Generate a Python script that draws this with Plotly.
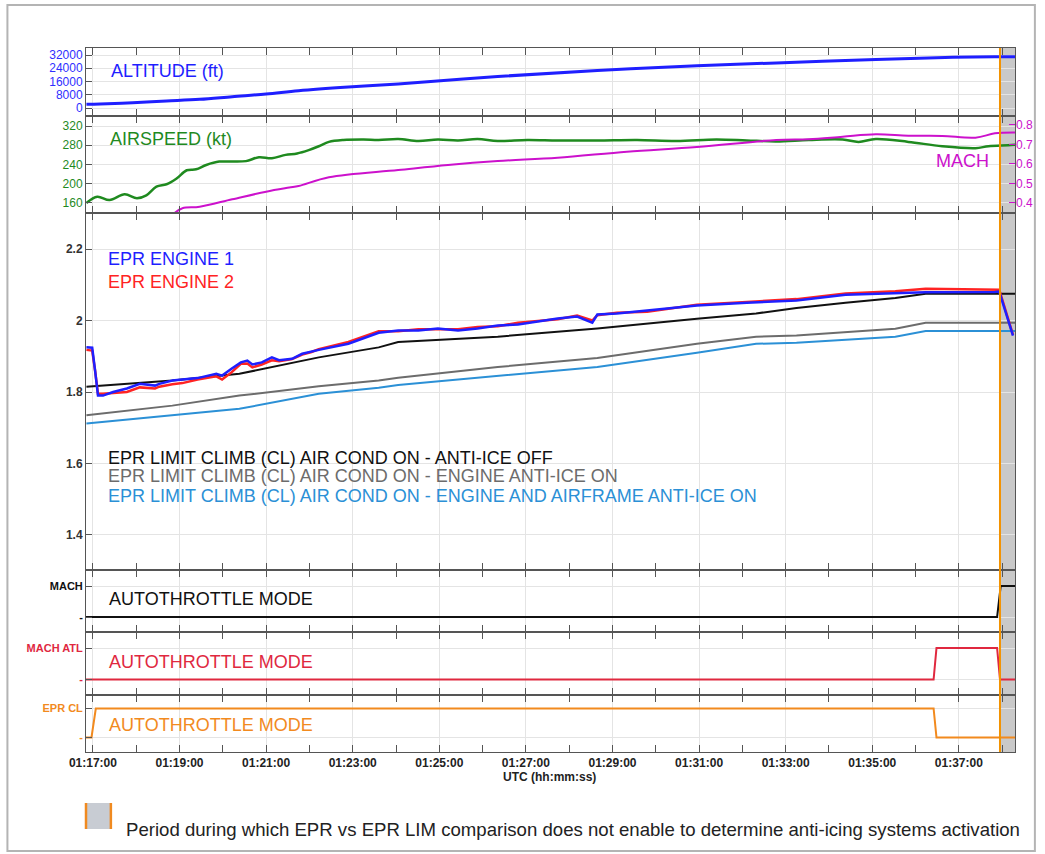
import plotly.graph_objects as go

# ---------------- data (UTC times, hh:mm:ss) ----------------
alt_t = ["01:16:51", "01:17:10", "01:17:55", "01:18:42", "01:19:28", "01:20:13", "01:21:00",
         "01:21:45", "01:22:54", "01:24:03", "01:26:21", "01:28:39", "01:30:57", "01:32:47",
         "01:35:05", "01:36:41", "01:37:50", "01:38:18"]
alt_ft = [2230, 2415, 3220, 4230, 5230, 6840, 8450, 10460, 12680, 14490, 19020, 22700,
          25500, 27200, 29300, 30500, 30900, 31000]

spd_t = ["01:16:51", "01:17:06", "01:17:23", "01:17:44", "01:18:01", "01:18:14", "01:18:28",
         "01:18:42", "01:18:56", "01:19:10", "01:19:23", "01:19:37", "01:19:55", "01:20:13",
         "01:20:32", "01:20:50", "01:21:08", "01:21:27", "01:21:43", "01:21:59", "01:22:13",
         "01:22:27", "01:22:47", "01:23:15", "01:23:36", "01:24:03", "01:24:31", "01:24:58",
         "01:25:26", "01:25:53", "01:26:21", "01:27:02", "01:27:44", "01:28:39", "01:29:34",
         "01:30:29", "01:31:24", "01:32:06", "01:32:47", "01:33:32", "01:34:19", "01:34:41",
         "01:35:05", "01:35:50", "01:36:37", "01:37:23", "01:37:41", "01:38:08", "01:38:18"]
spd_kt = [160, 173, 166, 178, 170, 176, 194, 199, 211, 228, 230, 239, 246, 246, 247, 255, 253,
          260, 263, 270, 278, 287, 291, 292, 291, 293, 289, 292, 290, 293, 289, 291, 290, 290,
          291, 289, 292, 290, 288, 291, 292, 287, 293, 287, 278, 274, 278, 280, 281]

mach_t = ["01:18:53", "01:19:04", "01:19:28", "01:20:13", "01:21:00", "01:21:32", "01:21:45",
          "01:22:27", "01:24:03", "01:25:12", "01:26:21", "01:27:44", "01:29:20", "01:30:57",
          "01:32:47", "01:33:32", "01:34:19", "01:35:05", "01:35:50", "01:36:37", "01:37:23",
          "01:37:50", "01:38:18"]
mach = [0.349, 0.373, 0.381, 0.419, 0.458, 0.479, 0.487, 0.532, 0.569, 0.595, 0.615, 0.632,
        0.663, 0.687, 0.723, 0.727, 0.740, 0.752, 0.745, 0.744, 0.735, 0.757, 0.761]

epr_t = ["01:16:51", "01:16:59", "01:17:03", "01:17:07", "01:17:14", "01:17:28", "01:17:47",
         "01:18:05", "01:18:26", "01:18:32", "01:18:50", "01:19:04", "01:19:25", "01:19:51",
         "01:19:59", "01:20:12", "01:20:25", "01:20:34", "01:20:41", "01:20:54", "01:21:08",
         "01:21:18", "01:21:36", "01:21:50", "01:22:03", "01:22:13", "01:22:54", "01:23:36",
         "01:24:03", "01:24:31", "01:24:58", "01:25:26", "01:25:53", "01:26:21", "01:26:49",
         "01:27:16", "01:27:44", "01:28:11", "01:28:32", "01:28:39", "01:29:06", "01:29:48",
         "01:30:57", "01:32:06", "01:33:15", "01:34:23", "01:35:32", "01:36:14", "01:37:50",
         "01:37:56", "01:38:15"]
epr_eng1 = [1.925, 1.924, 1.860, 1.790, 1.790, 1.800, 1.810, 1.823, 1.818, 1.823, 1.832, 1.834,
            1.839, 1.851, 1.846, 1.865, 1.883, 1.888, 1.877, 1.883, 1.897, 1.889, 1.893, 1.907,
            1.914, 1.918, 1.935, 1.966, 1.972, 1.972, 1.978, 1.972, 1.978, 1.986, 1.989, 1.997,
            2.006, 2.011, 1.994, 2.017, 2.020, 2.028, 2.042, 2.050, 2.056, 2.072, 2.076, 2.079,
            2.080, 2.081, 1.958]
epr_eng2 = [1.918, 1.916, 1.860, 1.795, 1.795, 1.797, 1.800, 1.813, 1.810, 1.815, 1.822, 1.825,
            1.835, 1.844, 1.835, 1.855, 1.879, 1.880, 1.869, 1.877, 1.889, 1.886, 1.892, 1.905,
            1.912, 1.920, 1.940, 1.970, 1.970, 1.976, 1.975, 1.976, 1.982, 1.984, 1.994, 1.999,
            2.004, 2.014, 2.000, 2.015, 2.022, 2.025, 2.044, 2.052, 2.060, 2.076, 2.082, 2.089,
            2.087, 2.086, 1.960]

lim_t = ["01:16:51", "01:18:50", "01:20:23", "01:22:13", "01:23:36", "01:24:03", "01:26:21",
         "01:28:39", "01:30:57", "01:32:19", "01:33:15", "01:34:23", "01:35:32", "01:36:14",
         "01:38:18"]
lim_ai_off = [1.815, 1.832, 1.851, 1.897, 1.925, 1.940, 1.955, 1.978, 2.005, 2.020, 2.035,
              2.050, 2.063, 2.075, 2.075]
lim_eng_ai = [1.735, 1.762, 1.790, 1.816, 1.832, 1.840, 1.870, 1.895, 1.935, 1.955, 1.958,
              1.967, 1.977, 1.994, 1.994]
lim_eng_af_ai = [1.712, 1.734, 1.753, 1.795, 1.812, 1.820, 1.845, 1.870, 1.910, 1.935, 1.938,
                 1.946, 1.955, 1.971, 1.971]

at_mach_t = ["01:16:50", "01:37:53", "01:37:58", "01:38:18"]
at_mach = [0, 0, 1, 1]
at_atl_t = ["01:16:50", "01:36:25", "01:36:29", "01:37:53", "01:37:57", "01:38:18"]
at_atl = [0, 0, 1, 1, 0, 0]
at_eprcl_t = ["01:16:50", "01:16:58", "01:17:04", "01:36:25", "01:36:29", "01:38:18"]
at_eprcl = [0, 0, 1, 1, 0, 0]

period_start = "01:37:57"
period_end = "01:38:18"
x_start, x_end = "01:16:50.4", "01:38:17.8"


def ts(values):
    return ["2000-01-01 " + v for v in values]


# ---------------- page geometry ----------------
W, H = 1045, 854
ML, MR, MT, MB = 86, 25, 48, 102
PW, PH = W - ML - MR, H - MT - MB


def px(x):
    return (x - ML) / PW


def py(y):
    return (H - MB - y) / PH


# panel domains (bottom, top) in paper units, top panel first
bounds = [48, 116, 213, 570, 632, 695, 752]
domains = [[py(bounds[i + 1]), py(bounds[i])] for i in range(6)]

BLUE = "#1f1fff"
RED = "#ff2323"
GREEN = "#1f8a1f"
MAGENTA = "#cc11cc"
BLACK = "#111111"
GREY = "#6c6c6c"
SKY = "#2b90d6"
ATL_RED = "#e0283f"
ORANGE = "#f28a1e"
AXIS = "#555555"
GRID = "#e4e4e4"

fig = go.Figure()


def add(x, y, color, width, xk, yk, name, shape="linear"):
    fig.add_trace(go.Scatter(x=ts(x), y=y, mode="lines", name=name,
                             line=dict(color=color, width=width, shape=shape),
                             xaxis="x" + xk, yaxis="y" + yk, showlegend=False,
                             hoverinfo="skip"))


add(alt_t, alt_ft, BLUE, 3, "", "", "Altitude", "spline")
add(spd_t, spd_kt, GREEN, 2.5, "2", "2", "Airspeed", "spline")
add(mach_t, mach, MAGENTA, 2, "2", "7", "Mach", "spline")
add(lim_t, lim_eng_af_ai, SKY, 2, "3", "3", "EPR LIM eng+af anti-ice")
add(lim_t, lim_eng_ai, GREY, 2, "3", "3", "EPR LIM eng anti-ice")
add(lim_t, lim_ai_off, BLACK, 2, "3", "3", "EPR LIM anti-ice off")
add(epr_t, epr_eng2, RED, 2.5, "3", "3", "EPR engine 2")
add(epr_t, epr_eng1, BLUE, 2.5, "3", "3", "EPR engine 1")
add(at_mach_t, at_mach, BLACK, 2, "4", "4", "AT MACH")
add(at_atl_t, at_atl, ATL_RED, 2, "5", "5", "AT MACH ATL")
add(at_eprcl_t, at_eprcl, ORANGE, 2, "6", "6", "AT EPR CL")

xr = ts([x_start, x_end])
layout = dict(width=W, height=H, margin=dict(l=ML, r=MR, t=MT, b=MB),
              paper_bgcolor="white", plot_bgcolor="rgba(0,0,0,0)",
              font=dict(family="Liberation Sans, Arial, sans-serif"))

axis_keys = ["", "2", "3", "4", "5", "6"]
for i, k in enumerate(axis_keys):
    xa = dict(type="date", range=xr, domain=[0, 1], anchor="y" + k,
              showline=True, linecolor=AXIS, linewidth=1, mirror="ticks",
              ticks="inside", ticklen=7, tickcolor=AXIS, tickwidth=1,
              tick0="2000-01-01 01:17:00", dtick=120000, tickformat="%H:%M:%S",
              minor=dict(dtick=60000, tick0="2000-01-01 01:17:00", ticks="inside",
                         ticklen=7, tickcolor=AXIS, showgrid=False),
              showgrid=True, gridcolor=GRID, gridwidth=1, zeroline=False,
              showticklabels=(i == 5),
              tickfont=dict(size=12, color="#222", weight="bold"))
    if k:
        xa["matches"] = "x"
    layout["xaxis" + k] = xa

common_y = dict(showline=True, linecolor=AXIS, mirror=True, ticks="inside", ticklen=6,
                tickcolor=AXIS, showgrid=True, gridcolor=GRID, zeroline=False)

layout["yaxis"] = dict(common_y, domain=domains[0], anchor="x",
                       range=[-4830, 36230], tickvals=[0, 8000, 16000, 24000, 32000],
                       tickformat="d", tickfont=dict(size=12, color="#2f2fff"))
layout["yaxis2"] = dict(common_y, domain=domains[1], anchor="x2",
                        range=[139.2, 340.8], tickvals=[160, 200, 240, 280, 320],
                        tickfont=dict(size=12, color=GREEN))
layout["yaxis7"] = dict(overlaying="y2", side="right", anchor="x2", range=[0.3487, 0.846],
                        tickvals=[0.4, 0.5, 0.6, 0.7, 0.8], ticks="inside", ticklen=6,
                        tickcolor=MAGENTA, showgrid=False, zeroline=False,
                        tickfont=dict(size=12, color=MAGENTA))
layout["yaxis3"] = dict(common_y, domain=domains[2], anchor="x3",
                        range=[1.302, 2.301], tickvals=[1.4, 1.6, 1.8, 2.0, 2.2],
                        ticktext=["1.4", "1.6", "1.8", "2", "2.2"],
                        tickfont=dict(size=12, color="#333", weight="bold"))
at_axes = [("4", domains[3], [-0.484, 1.516], "MACH", "#111"),
           ("5", domains[4], [-0.492, 1.508], "MACH ATL", ATL_RED),
           ("6", domains[5], [-0.5, 1.466], "EPR CL", ORANGE)]
for k, dom, rng, lab, col in at_axes:
    layout["yaxis" + k] = dict(common_y, domain=dom, anchor="x" + k, range=rng,
                               tickvals=[0, 1], ticktext=["-", lab],
                               tickfont=dict(size=11, color=col, weight="bold"))

fig.update_layout(**layout)

# grey period band and its orange start marker
fig.add_shape(type="rect", xref="x", yref="paper", x0=ts([period_start])[0],
              x1=ts([period_end])[0], y0=0, y1=1, fillcolor="#c9c9c9",
              line=dict(width=0), layer="below")
fig.add_shape(type="line", xref="x", yref="paper", x0=ts([period_start])[0],
              x1=ts([period_start])[0], y0=0, y1=1,
              line=dict(color="#f39200", width=2), layer="above")

# outer frame
fig.add_shape(type="rect", xref="paper", yref="paper", x0=px(7), x1=px(1040),
              y0=py(851), y1=py(5), line=dict(color="#b4b4b4", width=2),
              fillcolor="rgba(0,0,0,0)", layer="below")

# legend key for the grey period
fig.add_shape(type="rect", xref="paper", yref="paper", x0=px(86), x1=px(111),
              y0=py(829), y1=py(803), fillcolor="#c8ccd3", line=dict(width=0))
for xk in (86, 111):
    fig.add_shape(type="line", xref="paper", yref="paper", x0=px(xk), x1=px(xk),
                  y0=py(829), y1=py(803), line=dict(color="#f08a20", width=2.5))


def label(text, x, y, color, size=18, anchor="left", weight="normal"):
    fig.add_annotation(text=text, xref="paper", yref="paper", x=px(x), y=py(y),
                       xanchor=anchor, yanchor="middle", showarrow=False,
                       font=dict(size=size, color=color, weight=weight))


label("ALTITUDE (ft)", 109, 71, BLUE)
label("AIRSPEED (kt)", 108, 139, GREEN)
label("MACH", 996, 161, MAGENTA, anchor="right")
label("EPR ENGINE 1", 106, 259, BLUE)
label("EPR ENGINE 2", 106, 282, RED)
label("EPR LIMIT CLIMB (CL) AIR COND ON - ANTI-ICE OFF", 106, 458, BLACK)
label("EPR LIMIT CLIMB (CL) AIR COND ON - ENGINE ANTI-ICE ON", 106, 476, GREY)
label("EPR LIMIT CLIMB (CL) AIR COND ON - ENGINE AND AIRFRAME ANTI-ICE ON", 106, 496, SKY)
label("AUTOTHROTTLE MODE", 107, 599, BLACK)
label("AUTOTHROTTLE MODE", 107, 662, ATL_RED)
label("AUTOTHROTTLE MODE", 107, 725, ORANGE)
label("UTC (hh:mm:ss)", 552, 777, "#222", size=12, anchor="center", weight="bold")
label("Period during which EPR vs EPR LIM comparison does not enable to determine "
      "anti-icing systems activation", 124, 829, "#222", size=18.6)

fig.write_html("out.html")
